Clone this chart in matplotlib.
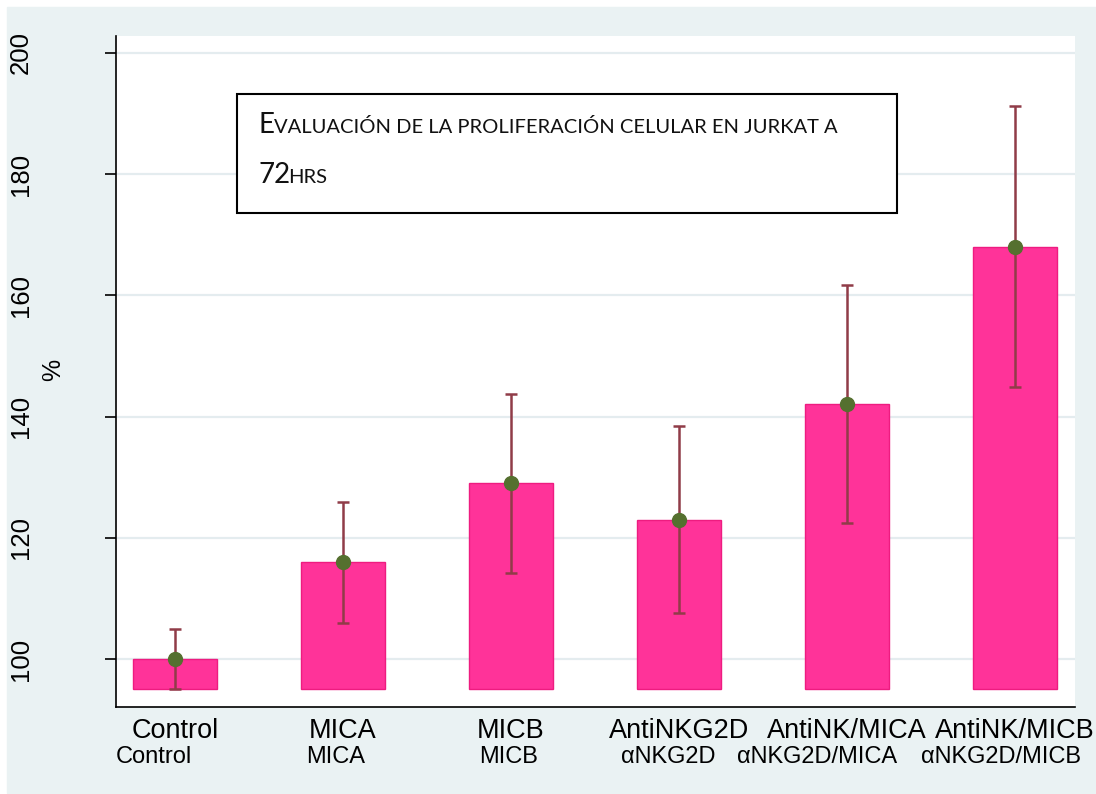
import matplotlib.pyplot as plt
from matplotlib.patches import Rectangle
from matplotlib.transforms import blended_transform_factory, Affine2D

# proliferation (%) at 72 h, mean with low/high error limits
groups = ["Control", "MICA", "MICB", "AntiNKG2D", "AntiNK/MICA", "AntiNK/MICB"]
subgroups = ["Control", "MICA", "MICB", "αNKG2D", "αNKG2D/MICA", "αNKG2D/MICB"]
means = [100, 116, 129, 123, 142, 168]
err_low = [95, 106, 114.2, 107.6, 122.5, 144.9]
err_high = [105, 125.9, 143.7, 138.4, 161.7, 191.3]
yticks = [100, 120, 140, 160, 180, 200]
base = 95

bg = "#EAF2F3"
bar_col = "#FF3399"
dot_col = "#55702F"
err_col = "#903C48"

fig = plt.figure(figsize=(10.96, 7.94), dpi=100)
fig.patches.append(Rectangle((7 / 1096, 1 / 794), 1089 / 1096, 786 / 794,
                             transform=fig.transFigure, color=bg, zorder=-5))

ax = fig.add_axes([116 / 1096, 87 / 794, 959 / 1096, 671 / 794])
ax.set_zorder(2)
ax.set_facecolor("white")

x = list(range(len(groups)))
heights = [m - base for m in means]
ax.bar(x, heights, bottom=base, width=0.5, color=bar_col,
       edgecolor="#EE1C80", linewidth=1, zorder=2)

lower = [m - lo for m, lo in zip(means, err_low)]
upper = [hi - m for m, hi in zip(means, err_high)]
ax.errorbar(x, means, yerr=[lower, upper], fmt="o", color=dot_col,
            markersize=10, ecolor=err_col, elinewidth=1.8, capsize=4.5,
            capthick=1.8, zorder=3)

ax.set_xlim(-0.351, 5.357)
ax.set_ylim(92.08, 202.8)

ax.set_yticks(yticks)
ax.yaxis.grid(True, color="#E4ECEF", linewidth=1.6, zorder=0)
ax.set_axisbelow(True)
ax.tick_params(axis="y", length=8, width=1.2, pad=52, labelsize=18.5,
               labelrotation=90)
for lab in ax.get_yticklabels():
    lab.set_fontfamily("Liberation Sans")
    lab.set_va("center")

ax.set_xticks(x, groups, fontsize=19.5, fontfamily="Liberation Sans")
ax.tick_params(axis="x", length=0, pad=8)

# second line of category names
sub_shift = [-0.125, -0.042, -0.012, -0.065, -0.179, -0.083]
trans = blended_transform_factory(ax.transData, ax.transAxes)
for xi, s, d in zip(x, subgroups, sub_shift):
    ax.text(xi + d, -0.0835, s, transform=trans, ha="center", va="baseline",
            fontsize=17, fontfamily="Liberation Sans")

ax.set_ylabel("%", fontsize=18, fontfamily="Liberation Sans", va="center")
ax.yaxis.set_label_coords(-0.0657, 0.502)

for side in ("top", "right"):
    ax.spines[side].set_visible(False)
for side in ("left", "bottom"):
    ax.spines[side].set_linewidth(1.2)

# title box with small-caps style text
ax.add_patch(Rectangle((0.1262, 0.7362), 0.6882, 0.1774, transform=ax.transAxes,
                       facecolor="white", edgecolor="black", linewidth=1.5,
                       zorder=4))

renderer = fig.canvas.get_renderer()


def draw_runs(runs, x0, y0, gap=-2):
    t = ax.text(x0, y0, runs[0][0], transform=ax.transAxes, fontsize=runs[0][1],
                fontfamily="Lato", ha="left", va="baseline", zorder=5,
                color="#111111")
    for txt, size in runs[1:]:
        bb = t.get_window_extent(renderer)
        t = ax.text(x0, y0, txt, fontsize=size, fontfamily="Lato",
                    ha="left", va="baseline", zorder=5, color="#111111",
                    transform=ax.transAxes + Affine2D().translate(
                        bb.x1 + gap - ax.transAxes.transform((x0, y0))[0], 0))


draw_runs([("E", 20), ("VALUACIÓN DE LA PROLIFERACIÓN CELULAR EN JURKAT A", 14.5)],
          0.1491, 0.8554, gap=-1)
draw_runs([("72", 20), ("HRS", 14.5)], 0.1491, 0.7809, gap=-3)

fig.savefig("out.png", dpi=100)
